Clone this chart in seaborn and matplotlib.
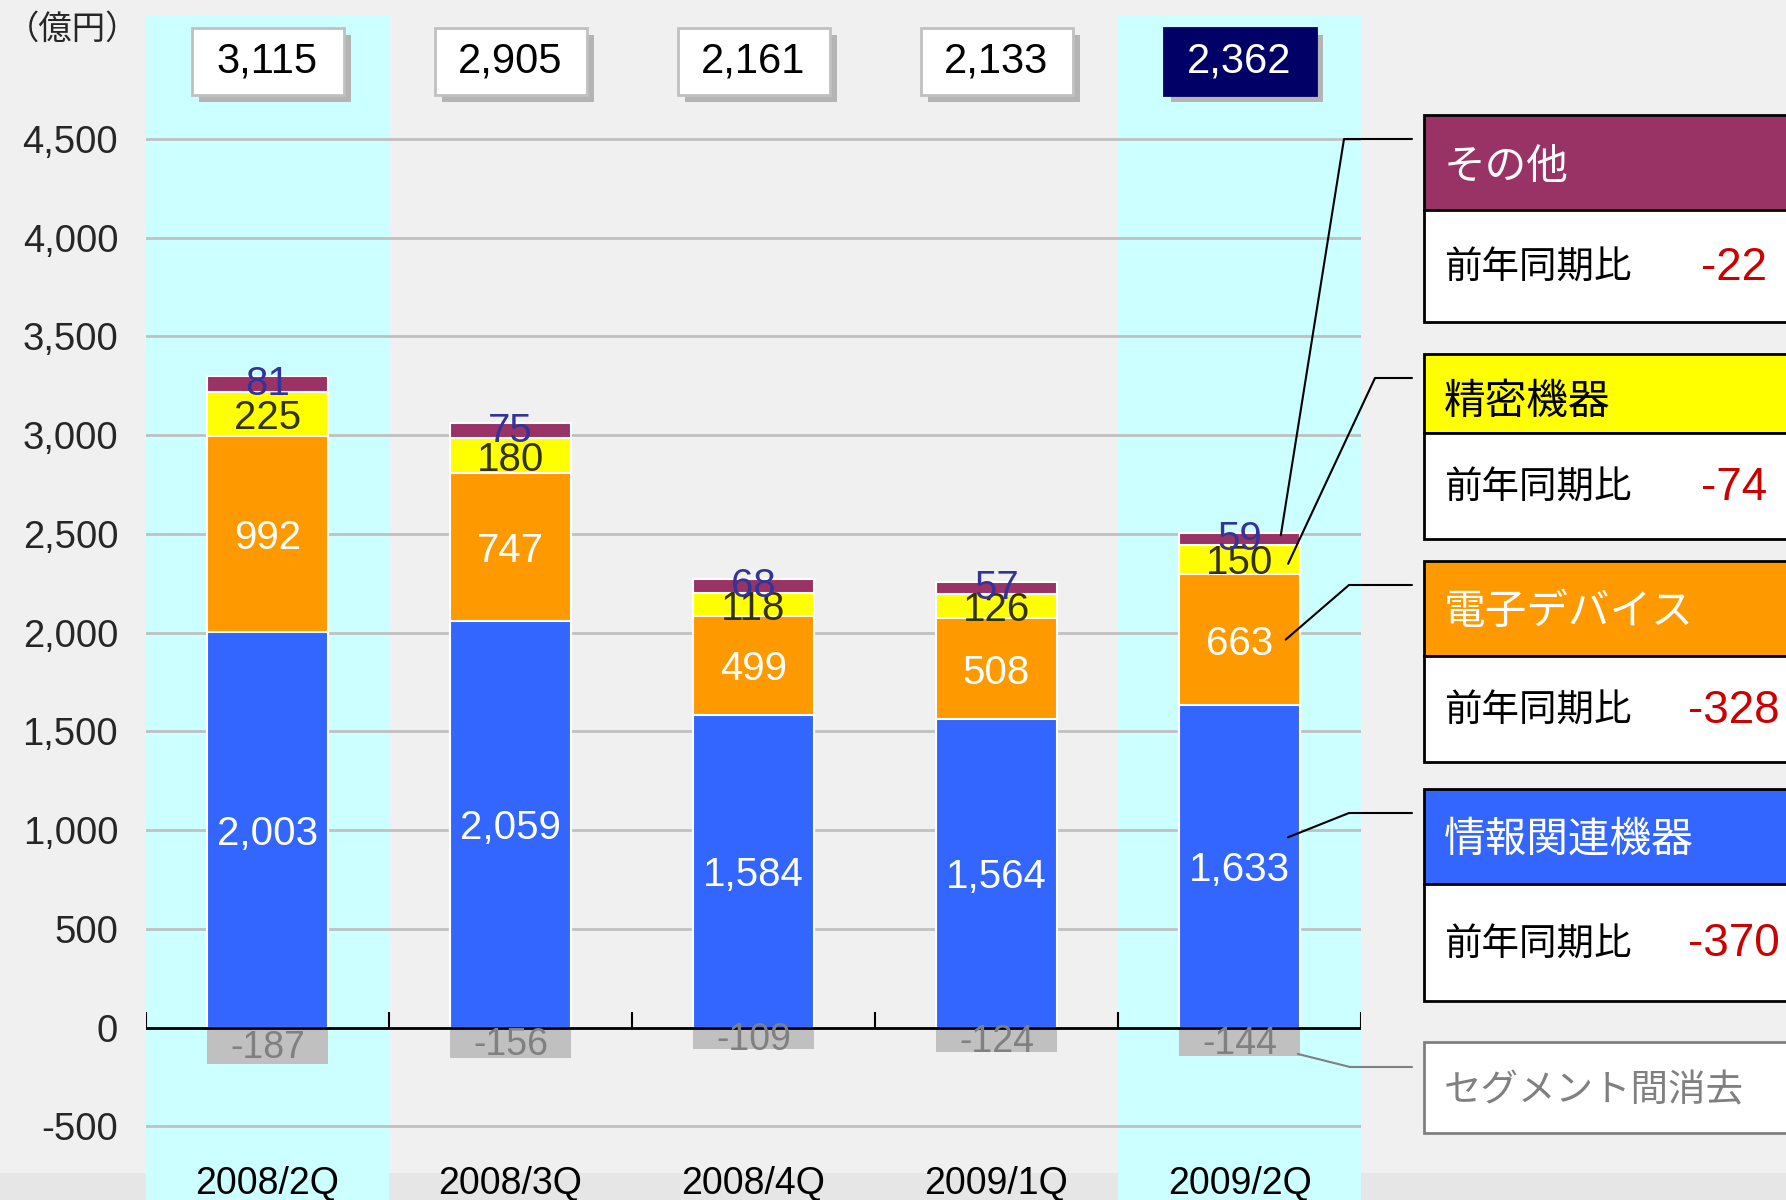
import numpy as np
import matplotlib.pyplot as plt
import seaborn as sns
from matplotlib.patches import Rectangle
from matplotlib.lines import Line2D

# ---- data (億円) ----
quarters    = ["2008/2Q", "2008/3Q", "2008/4Q", "2009/1Q", "2009/2Q"]
info_equip  = [2003, 2059, 1584, 1564, 1633]
devices     = [992, 747, 499, 508, 663]
precision   = [225, 180, 118, 126, 150]
others      = [81, 75, 68, 57, 59]
elimination = [-187, -156, -109, -124, -144]
totals      = [3115, 2905, 2161, 2133, 2362]

segment_names  = ["情報関連機器", "電子デバイス", "精密機器", "その他"]
segment_colors = ["#3366FF", "#FF9900", "#FFFF00", "#993366"]
label_colors   = ["white", "white", "#333300", "#333399"]
header_text    = ["white", "white", "black", "white"]
yoy_change     = [-370, -328, -74, -22]
elim_name      = "セグメント間消去"
highlight      = [0, 4]
focus          = 4

# ---- layout (pixels of the 1786x1200 canvas, y from top) ----
W, H = 1786, 1200
ZERO_PX, TOP_PX = 1027.5, 139.0           # y of 0 and 4,500
UPP = 4500 / (ZERO_PX - TOP_PX)           # data units per pixel
AX_LEFT, AX_RIGHT, AX_TOP = 146, 1361, 16

panel_tops    = [789, 561, 354, 115]
header_height = [95, 95, 79, 95]
body_height   = [117, 106, 106, 112]
header_shift  = [4, 4, 9, 5]
corner_x      = [1349, 1349, 1375, 1344]
leader_dx     = [0.20, 0.19, 0.20, 0.17]
leader_frac   = [0.59, 0.50, 0.35, 0.80]
label_shift   = [-4, -4, -4, 0]           # pixels, per segment
PANEL_X = 1424


def fx(px):
    return px / W


def fy(py):
    return 1 - py / H


sns.set_theme(style="white")
plt.rcParams["font.family"] = ["Liberation Sans", "Noto Sans CJK JP", "DejaVu Sans"]

fig = plt.figure(figsize=(W / 100, H / 100), dpi=100, facecolor="#F0F0F0")
fig.add_artist(Rectangle((0, 0), 1, fy(1173), transform=fig.transFigure,
                         facecolor="#E6E6E6", edgecolor="none", zorder=-5))

ax = fig.add_axes([fx(AX_LEFT), 0, fx(AX_RIGHT) - fx(AX_LEFT), fy(AX_TOP)])
ax.patch.set_alpha(0)

layers = np.array([info_equip, devices, precision, others])
cum = layers.cumsum(axis=0)
lower = cum - layers

# stacked bars drawn tallest first, then overlaid
for i in range(len(layers) - 1, -1, -1):
    sns.barplot(x=quarters, y=cum[i], color=segment_colors[i], saturation=1,
                width=0.5, edgecolor="white", linewidth=1.5, errorbar=None,
                ax=ax, zorder=3)
sns.barplot(x=quarters, y=elimination, color="#C0C0C0", saturation=1,
            width=0.5, linewidth=0, errorbar=None, ax=ax, zorder=3)

ymin = -(H - ZERO_PX) * UPP
ymax = (ZERO_PX - AX_TOP) * UPP
ax.set_xlim(-0.5, 4.5)
ax.set_ylim(ymin, ymax)
for s in ax.spines.values():
    s.set_visible(False)

for h in highlight:
    ax.axvspan(h - 0.5, h + 0.5, color="#CCFFFF", zorder=0, lw=0)

yticks = list(range(-500, 5000, 500))
ax.set_yticks(yticks)
ax.set_yticklabels([f"{v:,}" for v in yticks], fontsize=27.5)
ax.tick_params(axis="y", length=0, pad=20)
ax.yaxis.grid(True, color="#C0C0C0", lw=2, zorder=1)
ax.set_axisbelow(True)
ax.set_xticks([])
ax.set_xlabel("")

# zero line with upward ticks at category boundaries
ax.axhline(0, color="black", lw=2, zorder=5)
ax.vlines(np.arange(-0.5, 5, 1), 0, 16 * UPP, color="black", lw=1.5, zorder=5)

# segment value labels
for i in range(len(layers)):
    for j, v in enumerate(layers[i]):
        mid = lower[i, j] + v / 2 + label_shift[i] * UPP
        ax.text(j, mid, f"{v:,}", ha="center", va="center", fontsize=29,
                color=label_colors[i], zorder=6)
for j, v in enumerate(elimination):
    ax.text(j, v / 2 - 2 * UPP, f"{v:,}", ha="center", va="center", fontsize=27,
            color="#808080", zorder=6)

# category labels
for j, q in enumerate(quarters):
    ax.text(j, (ZERO_PX - 1184) * UPP, q, ha="center", va="center",
            fontsize=27, color="black")

fig.text(fx(6), fy(30), "（億円）", ha="left", va="center", fontsize=24)

# total boxes
fig.canvas.draw()
for j, t in enumerate(totals):
    cx = ax.transData.transform((j, 0))[0]
    bw, bh, cy = 152, 67, 61.5
    fc = "#000066" if j == focus else "white"
    ec = "#000066" if j == focus else "#C0C0C0"
    tc = "white" if j == focus else "black"
    fig.add_artist(Rectangle((fx(cx - bw / 2 + 7), fy(cy + bh / 2 + 7)), fx(bw), bh / H,
                             transform=fig.transFigure, facecolor="#B4B4B4",
                             edgecolor="none", zorder=7))
    fig.add_artist(Rectangle((fx(cx - bw / 2), fy(cy + bh / 2)), fx(bw), bh / H,
                             transform=fig.transFigure, facecolor=fc,
                             edgecolor=ec, lw=2, zorder=8))
    fig.text(fx(cx), fy(cy), f"{t:,}", ha="center", va="center", fontsize=30,
             color=tc, zorder=9)

# legend panels with year-on-year change
for i in range(len(segment_names)):
    top = panel_tops[i]
    hh, bh = header_height[i], body_height[i]
    fig.add_artist(Rectangle((fx(PANEL_X), fy(top + hh)), fx(W + 20 - PANEL_X), hh / H,
                             transform=fig.transFigure, facecolor=segment_colors[i],
                             edgecolor="black", lw=2, zorder=8))
    fig.add_artist(Rectangle((fx(PANEL_X), fy(top + hh + bh)), fx(W + 20 - PANEL_X), bh / H,
                             transform=fig.transFigure, facecolor="white",
                             edgecolor="black", lw=2, zorder=8))
    fig.text(fx(1444), fy(top + hh / 2 + header_shift[i]), segment_names[i],
             ha="left", va="center", fontsize=30, color=header_text[i], zorder=9)
    fig.text(fx(1444), fy(top + hh + bh / 2 + 3), "前年同期比", ha="left", va="center",
             fontsize=27, color="black", zorder=9)
    fig.text(fx(1734), fy(top + hh + bh / 2 + 2), f"{yoy_change[i]}", ha="center",
             va="center", fontsize=33, color="#CC0000", zorder=9)

    # leader line from the 2009/2Q segment to the panel
    px, py = ax.transData.transform(
        (focus + leader_dx[i], lower[i, focus] + leader_frac[i] * layers[i, focus]))
    ay = top + 24
    fig.add_artist(Line2D([fx(px), fx(corner_x[i]), fx(1412)],
                          [py / H, fy(ay), fy(ay)], transform=fig.transFigure,
                          color="black", lw=1.5, zorder=8))

# elimination panel
fig.add_artist(Rectangle((fx(PANEL_X), fy(1133)), fx(W + 20 - PANEL_X), 91 / H,
                         transform=fig.transFigure, facecolor="white",
                         edgecolor="#808080", lw=2, zorder=8))
fig.text(fx(1444), fy(1091), elim_name, ha="left", va="center", fontsize=27,
         color="#808080", zorder=9)
px, py = ax.transData.transform((focus + 0.24, 0.93 * elimination[focus]))
fig.add_artist(Line2D([fx(px), fx(1350), fx(1412)], [py / H, fy(1067), fy(1067)],
                      transform=fig.transFigure, color="#808080", lw=1.5, zorder=8))

fig.savefig("out.png", dpi=100, facecolor=fig.get_facecolor())
